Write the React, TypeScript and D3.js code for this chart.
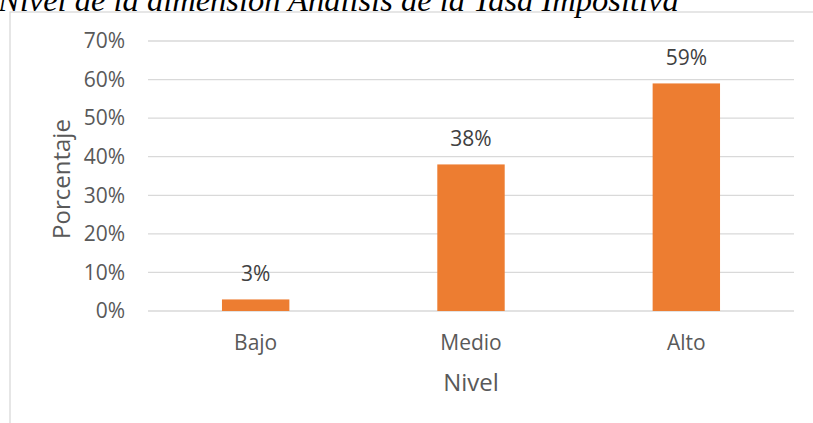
import React from "react";
import * as d3 from "d3";

const categories = ["Bajo", "Medio", "Alto"];
const values = [0.03, 0.38, 0.59];
const yTicks = [0, 0.1, 0.2, 0.3, 0.4, 0.5, 0.6, 0.7];
const title = "Nivel de la dimensión Análisis de la Tasa Impositiva";
const xTitle = "Nivel";
const yTitle = "Porcentaje";

const W = 813;
const H = 423;
const plot = { left: 148, right: 794, top: 41, bottom: 311 };
const font = "'Open Sans', sans-serif";

export default function App() {
  const x = d3
    .scaleBand<string>()
    .domain(categories)
    .range([plot.left, plot.right])
    .paddingInner(0.687)
    .paddingOuter(0.3435);
  const y = d3.scaleLinear().domain([0, 0.7]).range([plot.bottom, plot.top]);
  const fmt = d3.format(".0%");

  return (
    <svg
      width={W}
      height={H}
      style={{ position: "absolute", left: 0, top: 0, background: "#fff" }}
    >
      <rect x={10} y={12} width={W} height={H} fill="#fff" stroke="#D9D9D9" strokeWidth={1.3} />
      <text
        x={-2}
        y={11}
        fontFamily="'Liberation Serif', 'Times New Roman', serif"
        fontStyle="italic"
        fontSize={32.5}
        fill="#000"
      >
        {title}
      </text>
      {yTicks.map((t) => (
        <g key={t}>
          <line
            x1={plot.left}
            x2={plot.right}
            y1={y(t)}
            y2={y(t)}
            stroke="#D9D9D9"
            strokeWidth={1.3}
          />
          <text
            x={125}
            y={y(t)}
            dy="0.35em"
            textAnchor="end"
            fontFamily={font}
            fontSize={21}
            fill="#595959"
          >
            {fmt(t)}
          </text>
        </g>
      ))}
      {categories.map((c, i) => (
        <g key={c}>
          <rect
            x={x(c)}
            y={y(values[i])}
            width={x.bandwidth()}
            height={y(0) - y(values[i])}
            fill="#ED7D31"
          />
          <text
            x={(x(c) as number) + x.bandwidth() / 2}
            y={y(values[i]) - 18}
            textAnchor="middle"
            fontFamily={font}
            fontSize={21}
            fill="#404040"
          >
            {fmt(values[i])}
          </text>
          <text
            x={(x(c) as number) + x.bandwidth() / 2}
            y={350}
            textAnchor="middle"
            fontFamily={font}
            fontSize={21}
            fill="#595959"
          >
            {c}
          </text>
        </g>
      ))}
      <text
        x={(plot.left + plot.right) / 2}
        y={391}
        textAnchor="middle"
        fontFamily={font}
        fontSize={24}
        fill="#595959"
      >
        {xTitle}
      </text>
      <text
        transform={`translate(70, 179) rotate(-90)`}
        textAnchor="middle"
        fontFamily={font}
        fontSize={24}
        fill="#595959"
      >
        {yTitle}
      </text>
    </svg>
  );
}
